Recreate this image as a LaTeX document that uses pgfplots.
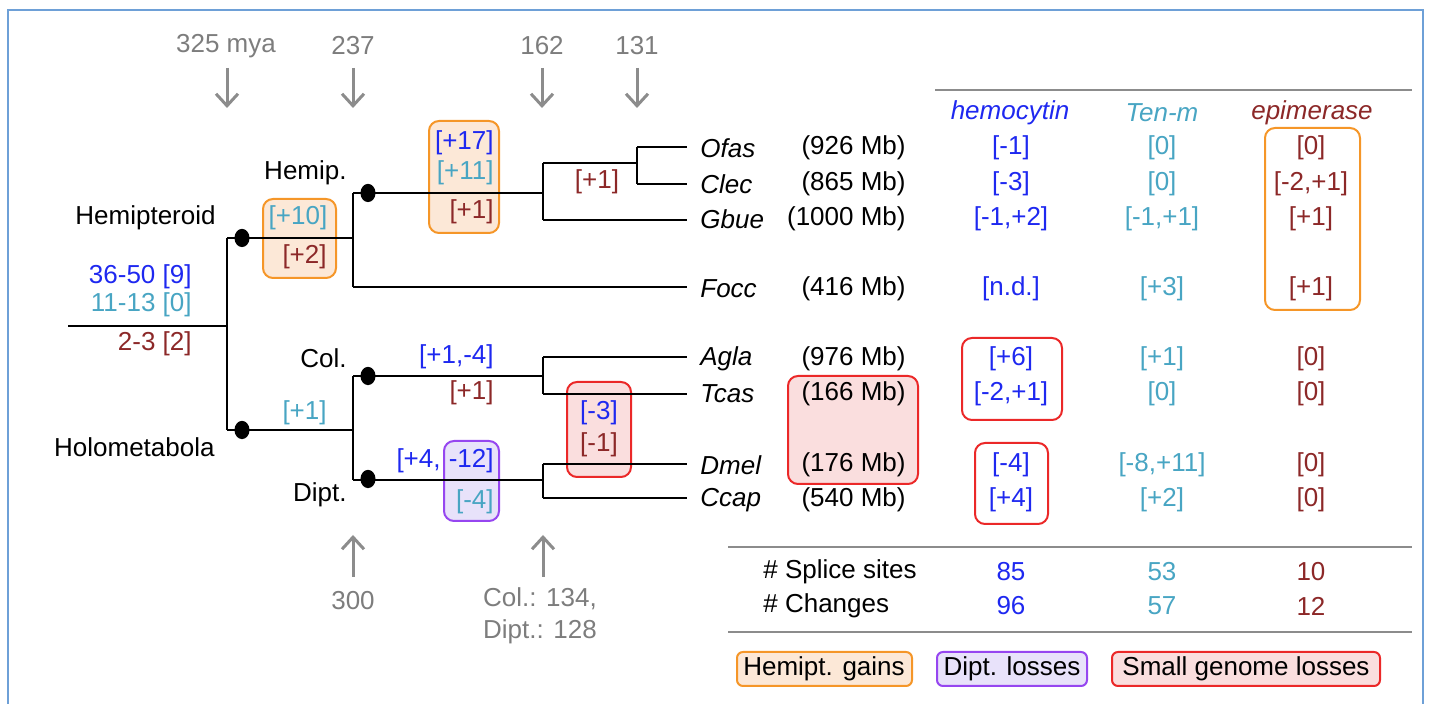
\documentclass[border=0pt]{standalone}
\usepackage{pgfplots}
\pgfplotsset{compat=1.18}
\usepackage{fontspec}
\setmainfont{Liberation Sans}
\usetikzlibrary{arrows.meta}
\definecolor{cblue}{RGB}{30,40,240}
\definecolor{cteal}{RGB}{72,165,195}
\definecolor{cred}{RGB}{140,40,40}
\definecolor{cgray}{RGB}{125,125,125}
\definecolor{agray}{RGB}{140,140,140}
\definecolor{frameblue}{RGB}{110,160,215}
\definecolor{oline}{RGB}{245,150,40}
\definecolor{ofill}{RGB}{252,232,215}
\definecolor{pline}{RGB}{150,70,240}
\definecolor{pfill}{RGB}{232,226,250}
\definecolor{rline}{RGB}{235,40,40}
\definecolor{rfill}{RGB}{250,222,222}
\tikzset{t/.style={font=\fontsize{13}{15}\selectfont, inner sep=0pt},
         ti/.style={font=\fontsize{13}{15}\selectfont\itshape, inner sep=0pt},
         box/.style={rounded corners=5pt, line width=1pt},
         garr/.style={agray, line width=1.5pt, -{Straight Barb[length=6pt,width=11pt,line width=1.5pt]}}}
\begin{document}
\begin{tikzpicture}
\useasboundingbox (0,0) rectangle (716pt,352pt);
\begin{axis}[
  scale only axis, width=716pt, height=352pt,
  xmin=0, xmax=1432, ymin=0, ymax=704, y dir=reverse,
  hide axis, clip=false,
  cycle list={{black, solid, mark=none}},
  every axis plot post/.append style={line width=1.1pt},
]
% frame
\draw[frameblue, line width=1pt] (axis cs:8,704) -- (axis cs:8,10) -- (axis cs:1423,10) -- (axis cs:1423,704);
% boxes
\draw[box, draw=oline, fill=ofill] (axis cs:263,199) rectangle (axis cs:336,278);
\draw[box, draw=oline, fill=ofill] (axis cs:429,121) rectangle (axis cs:499,233);
\draw[box, draw=rline, fill=rfill] (axis cs:567,382) rectangle (axis cs:631,477);
\draw[box, draw=pline, fill=pfill] (axis cs:444,441) rectangle (axis cs:499,521);
\draw[box, draw=rline, fill=rfill] (axis cs:788,376) rectangle (axis cs:918,484);
\draw[box, draw=oline] (axis cs:1265,128) rectangle (axis cs:1360,310);
\draw[box, draw=rline] (axis cs:962,338) rectangle (axis cs:1062,420);
\draw[box, draw=rline] (axis cs:975,443) rectangle (axis cs:1048,524);
% tree
\addplot coordinates {(68,326) (227,326)};
\addplot coordinates {(227,238) (227,430)};
\addplot coordinates {(227,238) (353,238)};
\addplot coordinates {(227,430) (353,430)};
\addplot coordinates {(353,193) (353,287)};
\addplot coordinates {(353,193) (543,193)};
\addplot coordinates {(353,287) (687,287)};
\addplot coordinates {(543,163) (543,220)};
\addplot coordinates {(543,163) (637,163)};
\addplot coordinates {(637,147) (637,184)};
\addplot coordinates {(637,147) (687,147)};
\addplot coordinates {(637,184) (687,184)};
\addplot coordinates {(543,220) (687,220)};
\addplot coordinates {(353,376) (353,480)};
\addplot coordinates {(353,376) (543,376)};
\addplot coordinates {(543,357) (543,394)};
\addplot coordinates {(543,357) (687,357)};
\addplot coordinates {(543,394) (687,394)};
\addplot coordinates {(353,480) (543,480)};
\addplot coordinates {(543,464) (543,498)};
\addplot coordinates {(543,464) (687,464)};
\addplot coordinates {(543,498) (687,498)};
\addplot[only marks, mark=*, mark size=4pt, mark options={xscale=0.8, fill=black, draw=black}] coordinates {(242,238) (242,430) (368,193) (368,376) (368,479)};
% table lines
\addplot[agray] coordinates {(935,90) (1412,90)};
\addplot[agray] coordinates {(728,547) (1412,547)};
\addplot[agray] coordinates {(728,632) (1412,632)};
% arrows
\draw[garr] (axis cs:227,68) -- (axis cs:227,108);
\draw[garr] (axis cs:353,68) -- (axis cs:353,108);
\draw[garr] (axis cs:542,68) -- (axis cs:542,108);
\draw[garr] (axis cs:637,68) -- (axis cs:637,108);
\draw[garr] (axis cs:353,577) -- (axis cs:353,535);
\draw[garr] (axis cs:543,577) -- (axis cs:543,535);
% time labels
\node[t, cgray] at (axis cs:226,46) {325 mya};
\node[t, cgray] at (axis cs:353,46) {237};
\node[t, cgray] at (axis cs:542,46) {162};
\node[t, cgray] at (axis cs:637,46) {131};
\node[t, cgray] at (axis cs:353,601) {300};
\node[t, cgray, align=center] at (axis cs:540,616) {Col.: 134,\\[1pt]Dipt.: 128};
% clade labels
\node[t, anchor=east] at (axis cs:216,218) {Hemipteroid};
\node[t, anchor=east] at (axis cs:215,447) {Holometabola};
\node[t, anchor=east] at (axis cs:347,173) {Hemip.};
\node[t, anchor=east] at (axis cs:347,358) {Col.};
\node[t, anchor=east] at (axis cs:347,495) {Dipt.};
\node[t, anchor=east, cblue] at (axis cs:192,277) {36-50 [9]};
\node[t, anchor=east, cteal] at (axis cs:192,305) {11-13 [0]};
\node[t, anchor=east, cred] at (axis cs:192,344) {2-3 [2]};
% branch annotations
\node[t, cteal] at (axis cs:298,218) {[+10]};
\node[t, anchor=east, cred] at (axis cs:327,257) {[+2]};
\node[t, anchor=east, cblue] at (axis cs:494,143) {[+17]};
\node[t, anchor=east, cteal] at (axis cs:494,173) {[+11]};
\node[t, anchor=east, cred] at (axis cs:494,212) {[+1]};
\node[t, cred] at (axis cs:597,182) {[+1]};
\node[t, anchor=east, cteal] at (axis cs:327,413) {[+1]};
\node[t, anchor=east, cblue] at (axis cs:494,357) {[+1,-4]};
\node[t, anchor=east, cred] at (axis cs:494,393) {[+1]};
\node[t, cblue] at (axis cs:599,413) {[-3]};
\node[t, cred] at (axis cs:599,445) {[-1]};
\node[t, anchor=east, cblue] at (axis cs:441,461) {[+4,};
\node[t, anchor=east, cblue] at (axis cs:494,461) {-12]};
\node[t, anchor=east, cteal] at (axis cs:494,502) {[-4]};
% species
\node[ti, anchor=west] at (axis cs:700,148) {Ofas};
\node[ti, anchor=west] at (axis cs:700,184) {Clec};
\node[ti, anchor=west] at (axis cs:700,219) {Gbue};
\node[ti, anchor=west] at (axis cs:700,289) {Focc};
\node[ti, anchor=west] at (axis cs:700,359) {Agla};
\node[ti, anchor=west] at (axis cs:700,394) {Tcas};
\node[ti, anchor=west] at (axis cs:700,465) {Dmel};
\node[ti, anchor=west] at (axis cs:700,500) {Ccap};
\node[t, anchor=east] at (axis cs:906,148) {(926 Mb)};
\node[t, anchor=east] at (axis cs:906,184) {(865 Mb)};
\node[t, anchor=east] at (axis cs:906,219) {(1000 Mb)};
\node[t, anchor=east] at (axis cs:906,289) {(416 Mb)};
\node[t, anchor=east] at (axis cs:906,359) {(976 Mb)};
\node[t, anchor=east] at (axis cs:906,394) {(166 Mb)};
\node[t, anchor=east] at (axis cs:906,465) {(176 Mb)};
\node[t, anchor=east] at (axis cs:906,500) {(540 Mb)};
% headers
\node[ti, cblue] at (axis cs:1010,113) {hemocytin};
\node[ti, cteal] at (axis cs:1162,113) {Ten-m};
\node[ti, cred] at (axis cs:1312,113) {epimerase};
% table values: hemocytin
\node[t, cblue] at (axis cs:1011,148) {[-1]};
\node[t, cblue] at (axis cs:1011,184) {[-3]};
\node[t, cblue] at (axis cs:1011,219) {[-1,+2]};
\node[t, cblue] at (axis cs:1011,289) {[n.d.]};
\node[t, cblue] at (axis cs:1011,359) {[+6]};
\node[t, cblue] at (axis cs:1011,394) {[-2,+1]};
\node[t, cblue] at (axis cs:1011,465) {[-4]};
\node[t, cblue] at (axis cs:1011,500) {[+4]};
% Ten-m
\node[t, cteal] at (axis cs:1162,148) {[0]};
\node[t, cteal] at (axis cs:1162,184) {[0]};
\node[t, cteal] at (axis cs:1162,219) {[-1,+1]};
\node[t, cteal] at (axis cs:1162,289) {[+3]};
\node[t, cteal] at (axis cs:1162,359) {[+1]};
\node[t, cteal] at (axis cs:1162,394) {[0]};
\node[t, cteal] at (axis cs:1162,465) {[-8,+11]};
\node[t, cteal] at (axis cs:1162,500) {[+2]};
% epimerase
\node[t, cred] at (axis cs:1311,148) {[0]};
\node[t, cred] at (axis cs:1311,184) {[-2,+1]};
\node[t, cred] at (axis cs:1311,219) {[+1]};
\node[t, cred] at (axis cs:1311,289) {[+1]};
\node[t, cred] at (axis cs:1311,359) {[0]};
\node[t, cred] at (axis cs:1311,394) {[0]};
\node[t, cred] at (axis cs:1311,465) {[0]};
\node[t, cred] at (axis cs:1311,500) {[0]};
% summary
\node[t, anchor=west] at (axis cs:763,572) {\# Splice sites};
\node[t, anchor=west] at (axis cs:763,606) {\# Changes};
\node[t, cblue] at (axis cs:1011,572) {85};
\node[t, cteal] at (axis cs:1162,572) {53};
\node[t, cred] at (axis cs:1311,572) {10};
\node[t, cblue] at (axis cs:1011,606) {96};
\node[t, cteal] at (axis cs:1162,606) {57};
\node[t, cred] at (axis cs:1311,606) {12};
% legend
\draw[rounded corners=3pt, line width=1pt, draw=oline, fill=ofill] (axis cs:737,652) rectangle (axis cs:912,686);
\draw[rounded corners=3pt, line width=1pt, draw=pline, fill=pfill] (axis cs:937,652) rectangle (axis cs:1087,686);
\draw[rounded corners=3pt, line width=1pt, draw=rline, fill=rfill] (axis cs:1112,652) rectangle (axis cs:1380,686);
\node[t] at (axis cs:824,669) {Hemipt. gains};
\node[t] at (axis cs:1012,669) {Dipt. losses};
\node[t] at (axis cs:1246,669) {Small genome losses};
\end{axis}
\end{tikzpicture}
\end{document}
